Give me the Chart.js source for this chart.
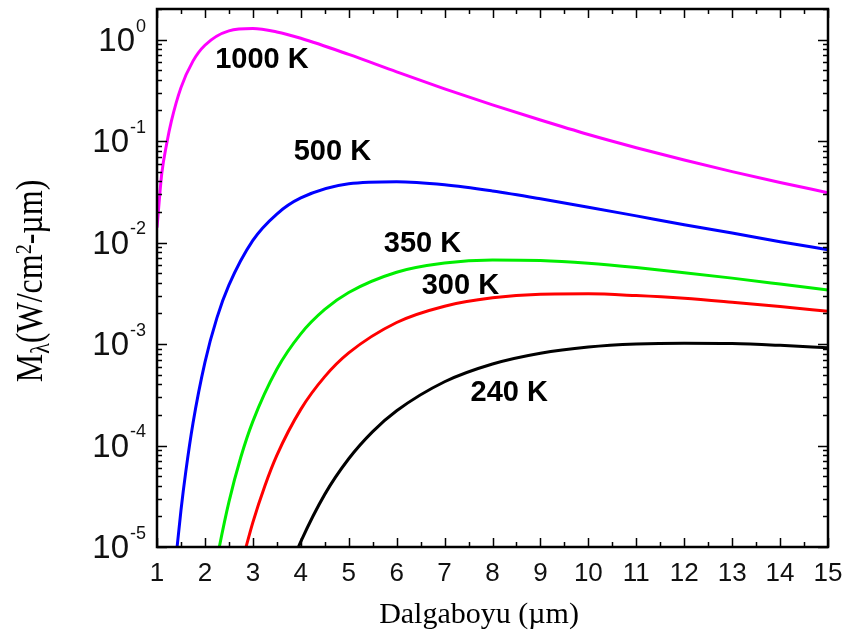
<!DOCTYPE html>
<html>
<head>
<meta charset="utf-8">
<script src="https://cdn.jsdelivr.net/npm/chart.js@4.4.1/dist/chart.umd.min.js"></script>
<style>
  html, body { margin: 0; padding: 0; background: #fff; overflow: hidden; }
  #wrap { width: 846px; height: 637px; }
</style>
</head>
<body>
<div id="wrap"><canvas id="planckChart"></canvas></div>
<script>
// Values (wavelength in µm, exitance in W/cm²-µm)
const wl1000 = [1.0, 1.1, 1.2, 1.3, 1.5, 1.75, 2, 2.5, 3, 3.5, 4, 5, 6, 7, 8, 9, 10, 11, 12, 13, 14, 15];
const m1000 = [0.014, 0.048, 0.093, 0.157, 0.336, 0.613, 0.879, 1.217, 1.283, 1.188, 1.029, 0.714, 0.481, 0.327, 0.227, 0.161, 0.116, 0.086, 0.065, 0.050, 0.039, 0.031];

const wl500 = [1.3, 1.4, 1.5, 1.6, 1.75, 2, 2.25, 2.5, 3, 3.5, 4, 5, 6, 7, 8, 9, 10, 11, 12, 13, 14, 15];
const m500 = [2.5e-6, 8.2e-6, 2.3e-5, 5.5e-5, 1.65e-4, 6.6e-4, 1.81e-3, 3.8e-3, 1.05e-2, 1.91e-2, 2.75e-2, 3.8e-2, 3.98e-2, 3.71e-2, 3.22e-2, 2.7e-2, 2.23e-2, 1.83e-2, 1.5e-2, 1.24e-2, 1.02e-2, 8.5e-3];

const wl350 = [2.2, 2.3, 2.5, 2.75, 3, 3.5, 4, 4.5, 5, 6, 7, 8, 9, 10, 11, 12, 13, 14, 15];
const m350 = [5.6e-6, 1.0e-5, 2.77e-5, 7.7e-5, 1.73e-4, 5.64e-4, 1.26e-3, 2.19e-3, 3.22e-3, 5.1e-3, 6.28e-3, 6.74e-3, 6.65e-3, 6.24e-3, 5.67e-3, 5.05e-3, 4.46e-3, 3.9e-3, 3.4e-3];

const wl300 = [2.8, 3, 3.25, 3.5, 4, 4.5, 5, 6, 7, 8, 9, 10, 11, 12, 13, 14, 15];
const m300 = [7.9e-6, 1.75e-5, 4.0e-5, 8.0e-5, 2.27e-4, 4.77e-4, 8.17e-4, 1.63e-3, 2.36e-3, 2.85e-3, 3.09e-3, 3.12e-3, 3.0e-3, 2.82e-3, 2.58e-3, 2.34e-3, 2.1e-3];

const wl240 = [3.8, 4, 4.5, 5, 5.5, 6, 7, 8, 9, 10, 11, 12, 13, 14, 15];
const m240 = [6.7e-6, 1.13e-5, 3.3e-5, 7.4e-5, 1.37e-4, 2.2e-4, 4.25e-4, 6.36e-4, 8.12e-4, 9.34e-4, 1.0e-3, 1.02e-3, 1.01e-3, 9.7e-4, 9.2e-4];

const curveNames = ['1000 K', '500 K', '350 K', '300 K', '240 K'];
const curveColors = ['#ff00ff', '#0000ff', '#00ee00', '#ff0000', '#000000'];
// label anchor per curve (µm, value)
const labelX = [3.19, 4.66, 6.54, 7.33, 8.35];
const labelY = [0.646, 0.079, 0.0098, 0.0038, 0.00034];

const yDecades = [1e-5, 1e-4, 1e-3, 1e-2, 1e-1, 1];
const yExponents = ['-5', '-4', '-3', '-2', '-1', '0'];
const xTicks = [1, 2, 3, 4, 5, 6, 7, 8, 9, 10, 11, 12, 13, 14, 15];

const toPoints = (xs, ys) => xs.map((x, i) => ({ x: x, y: ys[i] }));
const series = [
    toPoints(wl1000, m1000),
    toPoints(wl500, m500),
    toPoints(wl350, m350),
    toPoints(wl300, m300),
    toPoints(wl240, m240)
];

const SANS = '"Liberation Sans", Arial, Helvetica, sans-serif';
const SERIF = '"Liberation Serif", "Times New Roman", serif';

// Frame, inward ticks, custom y labels, axis titles and curve labels
const decorations = {
    id: 'decorations',
    afterDraw(chart) {
        const ctx = chart.ctx;
        const a = chart.chartArea;
        const xs = chart.scales.x;
        const ys = chart.scales.y;
        ctx.save();
        ctx.strokeStyle = '#000';
        ctx.lineWidth = 1.5;

        // x ticks (top and bottom)
        for (let v = 1; v <= 15; v += 0.5) {
            const px = Math.round(xs.getPixelForValue(v)) + 0.5;
            const len = Number.isInteger(v) ? 9 : 5;
            ctx.beginPath();
            ctx.moveTo(px, a.bottom); ctx.lineTo(px, a.bottom - len);
            ctx.moveTo(px, a.top); ctx.lineTo(px, a.top + len);
            ctx.stroke();
        }
        // y ticks (left and right)
        yDecades.forEach(d => {
            for (let k = 1; k <= 9; k++) {
                const v = d * k;
                if (v > ys.max) break;
                const py = Math.round(ys.getPixelForValue(v)) + 0.5;
                const len = k === 1 ? 10 : 5;
                ctx.beginPath();
                ctx.moveTo(a.left, py); ctx.lineTo(a.left + len, py);
                ctx.moveTo(a.right, py); ctx.lineTo(a.right - len, py);
                ctx.stroke();
            }
        });

        // frame
        ctx.lineWidth = 2.5;
        ctx.strokeRect(a.left, a.top, a.right - a.left, a.bottom - a.top);

        // y tick labels 10^n
        ctx.fillStyle = '#111';
        ctx.textBaseline = 'middle';
        yDecades.forEach((d, i) => {
            const py = ys.getPixelForValue(d);
            const exp = yExponents[i];
            const right = a.left - 11;
            ctx.font = '18px ' + SANS;
            const ew = ctx.measureText(exp).width;
            ctx.textAlign = 'right';
            ctx.fillText(exp, right, py - 13);
            ctx.font = '33px ' + SANS;
            ctx.fillText('10', right - ew - 1, py + 2);
        });

        // x axis title
        ctx.fillStyle = '#000';
        ctx.font = '30px ' + SERIF;
        ctx.textAlign = 'center';
        ctx.textBaseline = 'alphabetic';
        ctx.fillText('Dalgaboyu (µm)', 479, 623);

        // y axis title: Mλ(W/cm²-µm)
        const parts = [
            { t: 'M', size: 32, dy: 0 },
            { t: 'λ', size: 22, dy: 6 },
            { t: '(W/cm', size: 32, dy: 0 },
            { t: '2', size: 20, dy: -9 },
            { t: '-µm)', size: 32, dy: 0 }
        ];
        ctx.save();
        ctx.translate(30, 281);
        ctx.scale(1.2, 1);
        ctx.rotate(-Math.PI / 2);
        let total = 0;
        parts.forEach(p => {
            ctx.font = p.size + 'px ' + SERIF;
            p.w = ctx.measureText(p.t).width;
            total += p.w;
        });
        let cx = -total / 2;
        ctx.textAlign = 'left';
        parts.forEach(p => {
            ctx.font = p.size + 'px ' + SERIF;
            ctx.fillText(p.t, cx, 10 + p.dy);
            cx += p.w;
        });
        ctx.restore();

        // curve labels
        ctx.font = 'bold 29px ' + SANS;
        ctx.fillStyle = '#000';
        ctx.textAlign = 'center';
        ctx.textBaseline = 'middle';
        curveNames.forEach((name, i) => {
            ctx.fillText(name, xs.getPixelForValue(labelX[i]), ys.getPixelForValue(labelY[i]) + 1);
        });
        ctx.restore();
    }
};

const data = {
    datasets: series.map((pts, i) => ({
        label: curveNames[i],
        data: pts,
        borderColor: curveColors[i],
        borderWidth: 3,
        pointRadius: 0,
        fill: false,
        cubicInterpolationMode: 'monotone'
    }))
};

const config = {
    type: 'line',
    data: data,
    options: {
        responsive: true,
        maintainAspectRatio: false,
        animation: false,
        layout: {
            padding: { top: 9, right: 18, left: 0, bottom: 0 }
        },
        plugins: {
            legend: { display: false },
            tooltip: { enabled: false }
        },
        scales: {
            x: {
                type: 'linear',
                min: 1,
                max: 15,
                afterBuildTicks: scale => { scale.ticks = xTicks.map(v => ({ value: v })); },
                afterFit: scale => {
                    scale.height = 90;
                    scale.paddingLeft = 0;
                    scale.paddingRight = 0;
                },
                grid: { display: false, drawTicks: false },
                border: { display: false },
                ticks: {
                    autoSkip: false,
                    maxRotation: 0,
                    padding: 11,
                    color: '#111',
                    font: { family: SANS, size: 26 }
                }
            },
            y: {
                type: 'logarithmic',
                min: 1e-5,
                max: 2,
                afterBuildTicks: scale => { scale.ticks = yDecades.map(v => ({ value: v })); },
                afterFit: scale => {
                    scale.width = 157;
                    scale.paddingTop = 0;
                    scale.paddingBottom = 0;
                },
                grid: { display: false, drawTicks: false },
                border: { display: false },
                ticks: { display: false }
            }
        }
    },
    plugins: [decorations]
};

const planckChart = document.getElementById('planckChart').getContext('2d');
new Chart(planckChart, config);
</script>
</body>
</html>
